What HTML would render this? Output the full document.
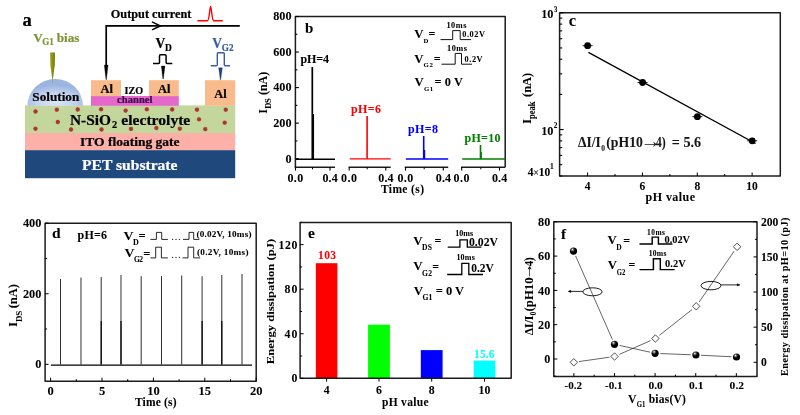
<!DOCTYPE html>
<html><head><meta charset="utf-8"><title>Figure</title>
<style>
html,body{margin:0;padding:0;background:#fff;}
svg{display:block;font-family:"Liberation Serif",serif;font-weight:bold;}
text{stroke:#000;stroke-width:0.06px;}
#pa text{stroke-width:0.22px;}
</style></head><body>
<svg width="800" height="415" viewBox="0 0 800 415">
<defs>
<radialGradient id="gsol" cx="0.5" cy="0.85" r="0.62">
<stop offset="0" stop-color="#dbe5f6"/><stop offset="0.55" stop-color="#c3d3ee"/><stop offset="1" stop-color="#9bb4e0"/>
</radialGradient>
<radialGradient id="gdot" cx="0.5" cy="0.5" r="0.5">
<stop offset="0" stop-color="#a62e32"/><stop offset="0.6" stop-color="#ae383a"/><stop offset="0.85" stop-color="#b4584c"/><stop offset="1" stop-color="#bd9a78"/>
</radialGradient>
<linearGradient id="gnd" x1="0" x2="1" y1="0" y2="0">
<stop offset="0" stop-color="#a5ad3a"/><stop offset="0.45" stop-color="#8a9210"/><stop offset="1" stop-color="#747c08"/>
</linearGradient>
<radialGradient id="gball" cx="0.36" cy="0.3" r="0.7">
<stop offset="0" stop-color="#fff"/><stop offset="0.22" stop-color="#666"/><stop offset="0.5" stop-color="#000"/><stop offset="1" stop-color="#000"/>
</radialGradient>
</defs>
<rect width="800" height="415" fill="#fff"/>
<g id="pa">
<rect x="25" y="105.4" width="210.2" height="27.8" fill="#c3d69b"/>
<rect x="25" y="133" width="210.2" height="17.4" fill="#fcb0a7"/>
<rect x="25" y="150.2" width="210.2" height="28" fill="#1f497d"/>
<rect x="91" y="96" width="87.8" height="9.8" fill="#e368ca"/>
<rect x="91" y="80.2" width="30" height="16" fill="#fabb8c"/>
<rect x="149" y="80.2" width="29.8" height="16" fill="#fabb8c"/>
<rect x="205" y="80.2" width="30.2" height="25.6" fill="#fabb8c"/>
<path d="M27.5 105.7 A27.7 26.8 0 0 1 82.9 105.7 Z" fill="url(#gsol)"/>
<path d="M50 52.6 L55 52.6 L54.8 65 L52.9 79.5 L52.6 83.8 L52.3 79.5 L50.3 65 Z" fill="url(#gnd)"/>
<circle cx="35.5" cy="111.5" r="2.4" fill="url(#gdot)"/>
<circle cx="56.8" cy="109.7" r="2.4" fill="url(#gdot)"/>
<circle cx="77.7" cy="109.5" r="2.4" fill="url(#gdot)"/>
<circle cx="101.1" cy="109.3" r="2.4" fill="url(#gdot)"/>
<circle cx="125.6" cy="110.6" r="2.4" fill="url(#gdot)"/>
<circle cx="146.8" cy="109.3" r="2.4" fill="url(#gdot)"/>
<circle cx="172.2" cy="109.5" r="2.4" fill="url(#gdot)"/>
<circle cx="197" cy="109.7" r="2.4" fill="url(#gdot)"/>
<circle cx="225.7" cy="109.7" r="2.4" fill="url(#gdot)"/>
<circle cx="57.8" cy="122" r="2.4" fill="url(#gdot)"/>
<circle cx="199" cy="119.3" r="2.4" fill="url(#gdot)"/>
<circle cx="224.7" cy="122.7" r="2.4" fill="url(#gdot)"/>
<circle cx="35.5" cy="128.7" r="2.4" fill="url(#gdot)"/>
<circle cx="71" cy="129.5" r="2.4" fill="url(#gdot)"/>
<circle cx="101.5" cy="129.5" r="2.4" fill="url(#gdot)"/>
<circle cx="131" cy="128.9" r="2.4" fill="url(#gdot)"/>
<circle cx="156.4" cy="128" r="2.4" fill="url(#gdot)"/>
<circle cx="179.8" cy="128.7" r="2.4" fill="url(#gdot)"/>
<circle cx="205.3" cy="129.2" r="2.4" fill="url(#gdot)"/>
<text x="22.6" y="26" font-size="18.5">a</text>
<text x="33.2" y="42.2" font-size="13" style="fill:#7f9435;stroke:#7f9435" textLength="9.6" lengthAdjust="spacingAndGlyphs">V</text>
<text x="42.3" y="44.7" font-size="9.5" style="fill:#7f9435;stroke:#7f9435" textLength="11.5" lengthAdjust="spacingAndGlyphs">G1</text>
<text x="56.7" y="42.2" font-size="13" style="fill:#7f9435;stroke:#7f9435" textLength="22.8" lengthAdjust="spacingAndGlyphs">bias</text>
<text x="32.3" y="100.9" font-size="13.3" textLength="47" lengthAdjust="spacingAndGlyphs">Solution</text>
<text x="100.5" y="92.5" font-size="12.3" textLength="12.4" lengthAdjust="spacingAndGlyphs">Al</text>
<text x="158" y="92.5" font-size="12.3" textLength="12.4" lengthAdjust="spacingAndGlyphs">Al</text>
<text x="214.3" y="98" font-size="12.3" textLength="12.4" lengthAdjust="spacingAndGlyphs">Al</text>
<text x="124.5" y="94.4" font-size="10.5" textLength="18.7" lengthAdjust="spacingAndGlyphs">IZO</text>
<text x="117" y="103.3" font-size="9.8" style="fill:#400850;stroke:#400850" textLength="35.5" lengthAdjust="spacingAndGlyphs">channel</text>
<text x="70" y="124.7" font-size="15" textLength="41" lengthAdjust="spacingAndGlyphs">N-SiO</text>
<text x="112" y="128.3" font-size="10.3">2</text>
<text x="121.3" y="124.7" font-size="15" textLength="69" lengthAdjust="spacingAndGlyphs">electrolyte</text>
<text x="80" y="146.2" font-size="12.3" textLength="99.5" lengthAdjust="spacingAndGlyphs">ITO floating gate</text>
<text x="82" y="169.8" font-size="14" style="fill:#fff;stroke:#fff" textLength="95.5" lengthAdjust="spacingAndGlyphs">PET substrate</text>
<path d="M239.8 25.9 L106.2 25.9 L106.2 70" stroke="#000" stroke-width="1.7" fill="none"/>
<path d="M104.3 65 L108.1 65 L106.4 79.8 L106 79.8 Z" stroke="#000" stroke-width="0.3" fill="#000"/>
<path d="M152 21.9 L160.3 25.9 L152 29.9" stroke="#000" stroke-width="1.6" fill="none"/>
<text x="110.8" y="17.8" font-size="12" textLength="80.5" lengthAdjust="spacingAndGlyphs">Output current</text>
<path d="M197.4 20.8 L207.4 20.8 C209.4 20.8 209.7 6.5 210.6 6.5 C211.5 6.5 211.8 20.8 213.8 20.8 L222.8 20.8" stroke="#f00" stroke-width="1.4" fill="none"/>
<text x="155.6" y="48" font-size="14.5" textLength="9.8" lengthAdjust="spacingAndGlyphs">V</text>
<text x="165" y="50.5" font-size="10.3" textLength="6.8" lengthAdjust="spacingAndGlyphs">D</text>
<path d="M153 63.4 L158.6 63.4 Q159.5 63.4 159.5 62.4 L159.5 55.8 Q159.5 54.8 160.5 54.8 L165.1 54.8 Q166.1 54.8 166.1 55.8 L166.1 62.4 Q166.1 63.4 167.1 63.4 L172.3 63.4" stroke="#000" stroke-width="1.5" fill="none"/>
<path d="M161.3 66 L165 66 L163.3 79 L162.9 79 Z" stroke="#000" stroke-width="0.3" fill="#000"/>
<text x="212.2" y="48" font-size="14.5" style="fill:#35609c;stroke:#35609c" textLength="9.8" lengthAdjust="spacingAndGlyphs">V</text>
<text x="221.8" y="50.7" font-size="10.3" style="fill:#35609c;stroke:#35609c" textLength="11.7" lengthAdjust="spacingAndGlyphs">G2</text>
<path d="M210.8 65.8 L216.3 65.8 Q217.3 65.8 217.3 64.8 L217.3 53.7 Q217.3 52.7 218.3 52.7 L223.3 52.7 Q224.3 52.7 224.3 53.7 L224.3 64.8 Q224.3 65.8 225.3 65.8 L230.1 65.8" stroke="#35609c" stroke-width="1.4" fill="none"/>
<path d="M218.6 67.8 L222.4 67.8 L220.7 80 L220.3 80 Z" stroke="#1f4477" stroke-width="0.3" fill="#1f4477"/>
</g>
<g id="pb">
<path d="M295.4 167.3 L295.4 16.4 L505.2 16.4 L505.2 167.3" stroke="#1c1c1c" stroke-width="1.5" fill="none" stroke-linejoin="round"/>
<line x1="294.7" y1="167.3" x2="335" y2="167.3" stroke="#1c1c1c" stroke-width="1.5"/>
<line x1="295.5" y1="167.3" x2="295.5" y2="170.6" stroke="#000" stroke-width="1.1"/>
<line x1="312.5" y1="167.3" x2="312.5" y2="169.3" stroke="#000" stroke-width="1.0"/>
<line x1="330" y1="167.3" x2="330" y2="170.6" stroke="#000" stroke-width="1.1"/>
<text x="287.4" y="181.7" font-size="12" textLength="15.8">0.0</text>
<text x="322.4" y="181.7" font-size="12" textLength="15.4">0.4</text>
<line x1="295.9" y1="159.2" x2="335" y2="159.2" stroke="#000" stroke-width="1.4"/>
<line x1="312.3" y1="67" x2="312.3" y2="159.2" stroke="#000" stroke-width="1.7"/>
<text x="300.5" y="62.7" font-size="12" textLength="28.5">pH=4</text>
<line x1="348.6" y1="167.3" x2="390.7" y2="167.3" stroke="#1c1c1c" stroke-width="1.5"/>
<line x1="349.2" y1="167.3" x2="349.2" y2="170.6" stroke="#000" stroke-width="1.1"/>
<line x1="367.2" y1="167.3" x2="367.2" y2="169.3" stroke="#000" stroke-width="1.0"/>
<line x1="385.8" y1="167.3" x2="385.8" y2="170.6" stroke="#000" stroke-width="1.1"/>
<text x="341.1" y="181.7" font-size="12" textLength="15.8">0.0</text>
<text x="378.2" y="181.7" font-size="12" textLength="15.4">0.4</text>
<line x1="349.8" y1="158.9" x2="390.7" y2="158.9" stroke="#f00" stroke-width="1.4"/>
<line x1="367.1" y1="116" x2="367.1" y2="158.9" stroke="#f00" stroke-width="1.6"/>
<text x="351" y="112.7" font-size="12" style="fill:#f00;stroke:#f00" textLength="30">pH=6</text>
<line x1="404.7" y1="167.3" x2="448.2" y2="167.3" stroke="#1c1c1c" stroke-width="1.5"/>
<line x1="405.5" y1="167.3" x2="405.5" y2="170.6" stroke="#000" stroke-width="1.1"/>
<line x1="424.2" y1="167.3" x2="424.2" y2="169.3" stroke="#000" stroke-width="1.0"/>
<line x1="443.3" y1="167.3" x2="443.3" y2="170.6" stroke="#000" stroke-width="1.1"/>
<text x="397.4" y="181.7" font-size="12" textLength="15.8">0.0</text>
<text x="435.7" y="181.7" font-size="12" textLength="15.4">0.4</text>
<line x1="405.9" y1="159" x2="448.2" y2="159" stroke="#00f" stroke-width="1.4"/>
<line x1="423.7" y1="136" x2="423.7" y2="159" stroke="#00f" stroke-width="1.6"/>
<text x="408" y="133.2" font-size="12" style="fill:#00f;stroke:#00f" textLength="30">pH=8</text>
<line x1="461" y1="167.3" x2="505.2" y2="167.3" stroke="#1c1c1c" stroke-width="1.5"/>
<line x1="461.7" y1="167.3" x2="461.7" y2="170.6" stroke="#000" stroke-width="1.1"/>
<line x1="480.8" y1="167.3" x2="480.8" y2="169.3" stroke="#000" stroke-width="1.0"/>
<line x1="499.5" y1="167.3" x2="499.5" y2="170.6" stroke="#000" stroke-width="1.1"/>
<text x="453.6" y="181.7" font-size="12" textLength="15.8">0.0</text>
<text x="491.9" y="181.7" font-size="12" textLength="15.4">0.4</text>
<line x1="462.2" y1="159" x2="505.2" y2="159" stroke="#008000" stroke-width="1.4"/>
<line x1="480.5" y1="145" x2="480.5" y2="159" stroke="#008000" stroke-width="1.6"/>
<text x="464.5" y="142.2" font-size="12" style="fill:#008000;stroke:#008000" textLength="36">pH=10</text>
<line x1="313.5" y1="114" x2="313.5" y2="159" stroke="#000" stroke-width="1.1"/>
<line x1="424.6" y1="150" x2="424.6" y2="159" stroke="#00f" stroke-width="1.2"/>
<line x1="481.3" y1="152" x2="481.3" y2="159" stroke="#008000" stroke-width="1.2"/>
<line x1="295.4" y1="158.7" x2="298.9" y2="158.7" stroke="#000" stroke-width="1.1"/>
<text x="291.5" y="162.5" font-size="12.2" text-anchor="end">0</text>
<line x1="295.4" y1="140.92" x2="297.4" y2="140.92" stroke="#000" stroke-width="1.1"/>
<line x1="295.4" y1="123.15" x2="298.9" y2="123.15" stroke="#000" stroke-width="1.1"/>
<text x="273.2" y="126.95" font-size="12.2" textLength="18.4">200</text>
<line x1="295.4" y1="105.37" x2="297.4" y2="105.37" stroke="#000" stroke-width="1.1"/>
<line x1="295.4" y1="87.6" x2="298.9" y2="87.6" stroke="#000" stroke-width="1.1"/>
<text x="273.2" y="91.4" font-size="12.2" textLength="18.4">400</text>
<line x1="295.4" y1="69.82" x2="297.4" y2="69.82" stroke="#000" stroke-width="1.1"/>
<line x1="295.4" y1="52.05" x2="298.9" y2="52.05" stroke="#000" stroke-width="1.1"/>
<text x="273.2" y="55.85" font-size="12.2" textLength="18.4">600</text>
<line x1="295.4" y1="34.28" x2="297.4" y2="34.28" stroke="#000" stroke-width="1.1"/>
<line x1="295.4" y1="16.5" x2="298.9" y2="16.5" stroke="#000" stroke-width="1.1"/>
<text x="273.2" y="20.3" font-size="12.2" textLength="18.4">800</text>
<text x="305" y="33.2" font-size="15">b</text>
<text x="381" y="193.4" font-size="11.5" textLength="43">Time (s)</text>
<g transform="translate(266.5,113.7) rotate(-90)">
<text x="0" y="0" font-size="12">I</text>
<text x="4.9" y="4.4" font-size="8.5" textLength="10.6">DS</text>
<text x="18.6" y="0" font-size="12" textLength="23.4">(nA)</text>
</g>
<text x="414.2" y="37.8" font-size="12.8">V</text>
<text x="423.4" y="42.8" font-size="6.8">D</text>
<text x="428.6" y="38.2" font-size="12" stroke-width="0">=</text>
<text x="414.2" y="62.8" font-size="12.8">V</text>
<text x="423.4" y="67.4" font-size="6.8" textLength="9.4">G2</text>
<text x="433.8" y="63.4" font-size="12" stroke-width="0">=</text>
<text x="414.6" y="85.8" font-size="12.8">V</text>
<text x="424" y="91" font-size="6.8" textLength="9.2">G1</text>
<text x="434.5" y="85.5" font-size="12.3" textLength="28.3">= 0 V</text>
<path d="M440.5 39.6 L452.7 39.6 L452.7 30.6 L460.2 30.6 L460.2 39.6 L471 39.6" stroke="#111" stroke-width="1.0" fill="none"/>
<path d="M441.5 64.2 L455.2 64.2 L455.2 53.4 L461.5 53.4 L461.5 64.2 L472 64.2" stroke="#111" stroke-width="1.0" fill="none"/>
<text x="446.4" y="27.5" font-size="8.3" textLength="20">10ms</text>
<text x="447" y="50.9" font-size="8.3" textLength="20">10ms</text>
<text x="462.3" y="37.2" font-size="8.3" textLength="22.6">0.02V</text>
<text x="464.6" y="62.2" font-size="8.3" textLength="18">0.2V</text>
</g>
<g id="pc">
<rect x="559.6" y="12.8" width="220.7" height="163.2" fill="none" stroke="#1c1c1c" stroke-width="1.5" stroke-linejoin="round"/>
<line x1="559.6" y1="12.8" x2="563.6" y2="12.8" stroke="#000" stroke-width="1.1"/>
<line x1="559.6" y1="18.14" x2="562.2" y2="18.14" stroke="#000" stroke-width="1.1"/>
<line x1="559.6" y1="24.11" x2="562.2" y2="24.11" stroke="#000" stroke-width="1.1"/>
<line x1="559.6" y1="30.88" x2="562.2" y2="30.88" stroke="#000" stroke-width="1.1"/>
<line x1="559.6" y1="38.7" x2="562.2" y2="38.7" stroke="#000" stroke-width="1.1"/>
<line x1="559.6" y1="47.94" x2="562.2" y2="47.94" stroke="#000" stroke-width="1.1"/>
<line x1="559.6" y1="59.26" x2="562.2" y2="59.26" stroke="#000" stroke-width="1.1"/>
<line x1="559.6" y1="73.84" x2="562.2" y2="73.84" stroke="#000" stroke-width="1.1"/>
<line x1="559.6" y1="94.4" x2="562.2" y2="94.4" stroke="#000" stroke-width="1.1"/>
<line x1="559.6" y1="129.54" x2="563.6" y2="129.54" stroke="#000" stroke-width="1.1"/>
<line x1="559.6" y1="134.88" x2="562.2" y2="134.88" stroke="#000" stroke-width="1.1"/>
<line x1="559.6" y1="140.85" x2="562.2" y2="140.85" stroke="#000" stroke-width="1.1"/>
<line x1="559.6" y1="147.62" x2="562.2" y2="147.62" stroke="#000" stroke-width="1.1"/>
<line x1="559.6" y1="155.44" x2="562.2" y2="155.44" stroke="#000" stroke-width="1.1"/>
<line x1="559.6" y1="164.68" x2="562.2" y2="164.68" stroke="#000" stroke-width="1.1"/>
<line x1="559.6" y1="176" x2="562.2" y2="176" stroke="#000" stroke-width="1.1"/>
<line x1="587.6" y1="176" x2="587.6" y2="172.5" stroke="#000" stroke-width="1.0"/>
<text x="587.6" y="189.6" font-size="11.5" text-anchor="middle">4</text>
<line x1="615.02" y1="176" x2="615.02" y2="174" stroke="#000" stroke-width="1.0"/>
<line x1="642.44" y1="176" x2="642.44" y2="172.5" stroke="#000" stroke-width="1.0"/>
<text x="642.44" y="189.6" font-size="11.5" text-anchor="middle">6</text>
<line x1="669.86" y1="176" x2="669.86" y2="174" stroke="#000" stroke-width="1.0"/>
<line x1="697.28" y1="176" x2="697.28" y2="172.5" stroke="#000" stroke-width="1.0"/>
<text x="697.28" y="189.6" font-size="11.5" text-anchor="middle">8</text>
<line x1="724.7" y1="176" x2="724.7" y2="174" stroke="#000" stroke-width="1.0"/>
<line x1="752.12" y1="176" x2="752.12" y2="172.5" stroke="#000" stroke-width="1.0"/>
<text x="752.12" y="189.6" font-size="11.5" text-anchor="middle">10</text>
<line x1="588.4" y1="52.3" x2="755.5" y2="143.5" stroke="#000" stroke-width="1.4"/>
<line x1="582.6" y1="45.7" x2="592.6" y2="45.7" stroke="#000" stroke-width="0.9"/>
<circle cx="587.6" cy="45.7" r="3.4" fill="#000"/>
<line x1="637.6" y1="82.5" x2="647.6" y2="82.5" stroke="#000" stroke-width="0.9"/>
<circle cx="642.6" cy="82.5" r="3.4" fill="#000"/>
<line x1="692.4" y1="116.7" x2="702.4" y2="116.7" stroke="#000" stroke-width="0.9"/>
<circle cx="697.4" cy="116.7" r="3.4" fill="#000"/>
<line x1="747.2" y1="140.8" x2="757.2" y2="140.8" stroke="#000" stroke-width="0.9"/>
<circle cx="752.2" cy="140.8" r="3.4" fill="#000"/>
<text x="568.8" y="26.3" font-size="16.5">c</text>
<text x="578.1" y="146.7" font-size="14" style="fill:#161616;stroke:#161616" textLength="22.8" lengthAdjust="spacingAndGlyphs">&#916;I/I</text>
<text x="601.2" y="150.8" font-size="7.5" style="fill:#161616;stroke:#161616">0</text>
<text x="606.3" y="146.7" font-size="14" style="fill:#161616;stroke:#161616" textLength="36.6" lengthAdjust="spacingAndGlyphs">(pH10</text>
<text transform="translate(640.5,146.5) scale(1.45,1.25)" font-size="14" style="fill:#161616;stroke:#161616">&#8594;</text>
<text x="655.8" y="146.7" font-size="14" style="fill:#161616;stroke:#161616" textLength="10" lengthAdjust="spacingAndGlyphs">4)</text>
<text x="671.8" y="146.7" font-size="14" style="fill:#161616;stroke:#161616" textLength="29.3" lengthAdjust="spacingAndGlyphs">= 5.6</text>
<text x="645.6" y="200.5" font-size="12" textLength="49.4">pH value</text>
<text x="541.2" y="18.4" font-size="12.3">10</text>
<text x="553.8" y="11.6" font-size="7.3">3</text>
<text x="541.2" y="134.6" font-size="12.3">10</text>
<text x="553.8" y="128.2" font-size="7.3">2</text>
<text x="527.8" y="175.8" font-size="11.5">4</text>
<text x="533.2" y="175.6" font-size="10" font-weight="normal">&#215;</text>
<text x="538.8" y="175.8" font-size="11.5">10</text>
<text x="549.9" y="169.2" font-size="7.5">1</text>
<g transform="translate(530.8,124.1) rotate(-90)">
<text x="0" y="0" font-size="12.5">I</text>
<text x="5" y="4.3" font-size="9.6" textLength="17.6" lengthAdjust="spacingAndGlyphs">peak</text>
<text x="27.1" y="0" font-size="12.5" textLength="24.2" lengthAdjust="spacingAndGlyphs">(nA)</text>
</g>
</g>
<g id="pd">
<rect x="45.1" y="223.2" width="211.1" height="158" fill="none" stroke="#1c1c1c" stroke-width="1.5" stroke-linejoin="round"/>
<line x1="45.1" y1="364.3" x2="48.6" y2="364.3" stroke="#000" stroke-width="1.0"/>
<line x1="45.1" y1="329.03" x2="47.1" y2="329.03" stroke="#000" stroke-width="1.0"/>
<line x1="45.1" y1="293.75" x2="48.6" y2="293.75" stroke="#000" stroke-width="1.0"/>
<line x1="45.1" y1="258.48" x2="47.1" y2="258.48" stroke="#000" stroke-width="1.0"/>
<line x1="45.1" y1="223.2" x2="48.6" y2="223.2" stroke="#000" stroke-width="1.0"/>
<text x="41.4" y="368.1" font-size="12.3" text-anchor="end">0</text>
<text x="41.4" y="297.55" font-size="12.3" text-anchor="end">200</text>
<text x="41.4" y="227" font-size="12.3" text-anchor="end">400</text>
<line x1="50.6" y1="381.2" x2="50.6" y2="377.7" stroke="#000" stroke-width="1.0"/>
<line x1="76.3" y1="381.2" x2="76.3" y2="379.2" stroke="#000" stroke-width="1.0"/>
<line x1="102" y1="381.2" x2="102" y2="377.7" stroke="#000" stroke-width="1.0"/>
<line x1="127.7" y1="381.2" x2="127.7" y2="379.2" stroke="#000" stroke-width="1.0"/>
<line x1="153.4" y1="381.2" x2="153.4" y2="377.7" stroke="#000" stroke-width="1.0"/>
<line x1="179.1" y1="381.2" x2="179.1" y2="379.2" stroke="#000" stroke-width="1.0"/>
<line x1="204.8" y1="381.2" x2="204.8" y2="377.7" stroke="#000" stroke-width="1.0"/>
<line x1="230.5" y1="381.2" x2="230.5" y2="379.2" stroke="#000" stroke-width="1.0"/>
<line x1="256.2" y1="381.2" x2="256.2" y2="377.7" stroke="#000" stroke-width="1.0"/>
<text x="50.6" y="395.4" font-size="12.5" text-anchor="middle">0</text>
<text x="102" y="395.4" font-size="12.5" text-anchor="middle">5</text>
<text x="153.4" y="395.4" font-size="12.5" text-anchor="middle">10</text>
<text x="204.8" y="395.4" font-size="12.5" text-anchor="middle">15</text>
<text x="256.2" y="395.4" font-size="12.5" text-anchor="middle">20</text>
<line x1="60.5" y1="279" x2="60.5" y2="364.5" stroke="#303030" stroke-width="1.0"/>
<line x1="81" y1="277.5" x2="81" y2="364.5" stroke="#303030" stroke-width="1.0"/>
<line x1="101.2" y1="277" x2="101.2" y2="364.5" stroke="#303030" stroke-width="1.0"/>
<line x1="121" y1="275" x2="121" y2="364.5" stroke="#303030" stroke-width="1.0"/>
<line x1="141.2" y1="276.2" x2="141.2" y2="364.5" stroke="#303030" stroke-width="1.0"/>
<line x1="161.5" y1="276.2" x2="161.5" y2="364.5" stroke="#303030" stroke-width="1.0"/>
<line x1="181.7" y1="275.5" x2="181.7" y2="364.5" stroke="#303030" stroke-width="1.0"/>
<line x1="202.1" y1="276.2" x2="202.1" y2="364.5" stroke="#303030" stroke-width="1.0"/>
<line x1="221.8" y1="275" x2="221.8" y2="364.5" stroke="#303030" stroke-width="1.0"/>
<line x1="242" y1="274" x2="242" y2="364.5" stroke="#303030" stroke-width="1.0"/>
<line x1="101.2" y1="321" x2="101.2" y2="364.5" stroke="#000" stroke-width="1.2"/>
<line x1="121" y1="321" x2="121" y2="364.5" stroke="#000" stroke-width="1.2"/>
<line x1="202.1" y1="321" x2="202.1" y2="364.5" stroke="#000" stroke-width="1.2"/>
<line x1="221.8" y1="321" x2="221.8" y2="364.5" stroke="#000" stroke-width="1.2"/>
<line x1="51" y1="365.1" x2="252" y2="365.1" stroke="#000" stroke-width="1.4"/>
<text x="52" y="238" font-size="15.5">d</text>
<text x="77.5" y="238.7" font-size="12" textLength="29.5">pH=6</text>
<text x="123.5" y="239.7" font-size="12.6" textLength="10" lengthAdjust="spacingAndGlyphs">V</text>
<text x="133" y="245.4" font-size="8">D</text>
<text x="138.6" y="240" font-size="12.5">=</text>
<text x="124.6" y="256.8" font-size="12.6" textLength="10" lengthAdjust="spacingAndGlyphs">V</text>
<text x="134" y="262.4" font-size="7.5" textLength="9">G2</text>
<text x="143.2" y="258" font-size="12.5">=</text>
<path d="M150.4 239.4 L156.4 239.4 L156.4 232.4 L161.7 232.4 L161.7 239.4 L167.9 239.4" stroke="#111" stroke-width="0.9" fill="none"/>
<path d="M183 239.4 L189 239.4 L189 232.4 L193.7 232.4 L193.7 239.4 L199.3 239.4" stroke="#111" stroke-width="0.9" fill="none"/>
<path d="M150.4 257.9 L155.7 257.9 L155.7 247.2 L161.4 247.2 L161.4 257.9 L167.9 257.9" stroke="#111" stroke-width="0.9" fill="none"/>
<path d="M182.5 257.9 L188 257.9 L188 247.2 L193.7 247.2 L193.7 257.9 L200.2 257.9" stroke="#111" stroke-width="0.9" fill="none"/>
<text x="171" y="239.8" font-size="10" textLength="10" font-weight="normal" stroke-width="0">&#8230;</text>
<text x="171" y="257.6" font-size="10" textLength="10" font-weight="normal" stroke-width="0">&#8230;</text>
<text x="196.5" y="237.3" font-size="9.2" textLength="55">(0.02V, 10ms)</text>
<text x="196.9" y="255.4" font-size="9.2" textLength="51.6">(0.2V, 10ms)</text>
<text x="135" y="406" font-size="11.5" textLength="41.5">Time (s)</text>
<g transform="translate(17.3,327.1) rotate(-90)">
<text x="0" y="0" font-size="12.5">I</text>
<text x="5" y="4.2" font-size="9" textLength="11.3">DS</text>
<text x="18.8" y="0" font-size="12.5" textLength="24.2">(nA)</text>
</g>
</g>
<g id="pe">
<rect x="315.8" y="263.2" width="21.6" height="115.1" fill="#f00"/>
<rect x="368.1" y="324.7" width="21.8" height="53.6" fill="#0f0"/>
<rect x="420.8" y="350.1" width="21.8" height="28.2" fill="#00f"/>
<rect x="473.7" y="360.6" width="21.6" height="17.7" fill="#0ff"/>
<rect x="300.1" y="222.6" width="211.1" height="155.7" fill="none" stroke="#1c1c1c" stroke-width="1.5" stroke-linejoin="round"/>
<line x1="300.1" y1="378.3" x2="303.6" y2="378.3" stroke="#000" stroke-width="1.0"/>
<text x="297.4" y="382.2" font-size="11.8" text-anchor="end">0</text>
<line x1="300.1" y1="356.02" x2="302.1" y2="356.02" stroke="#000" stroke-width="1.0"/>
<line x1="300.1" y1="333.74" x2="303.6" y2="333.74" stroke="#000" stroke-width="1.0"/>
<text x="297.4" y="337.64" font-size="11.8" text-anchor="end" textLength="13">40</text>
<line x1="300.1" y1="311.46" x2="302.1" y2="311.46" stroke="#000" stroke-width="1.0"/>
<line x1="300.1" y1="289.18" x2="303.6" y2="289.18" stroke="#000" stroke-width="1.0"/>
<text x="297.4" y="293.08" font-size="11.8" text-anchor="end" textLength="13">80</text>
<line x1="300.1" y1="266.9" x2="302.1" y2="266.9" stroke="#000" stroke-width="1.0"/>
<line x1="300.1" y1="244.62" x2="303.6" y2="244.62" stroke="#000" stroke-width="1.0"/>
<text x="297.4" y="248.52" font-size="11.8" text-anchor="end" textLength="18.8">120</text>
<line x1="300.1" y1="222.34" x2="302.1" y2="222.34" stroke="#000" stroke-width="1.0"/>
<line x1="326.6" y1="378.3" x2="326.6" y2="381.6" stroke="#000" stroke-width="1.0"/>
<text x="326.6" y="393.7" font-size="11.8" text-anchor="middle">4</text>
<line x1="379" y1="378.3" x2="379" y2="381.6" stroke="#000" stroke-width="1.0"/>
<text x="379" y="393.7" font-size="11.8" text-anchor="middle">6</text>
<line x1="431.7" y1="378.3" x2="431.7" y2="381.6" stroke="#000" stroke-width="1.0"/>
<text x="431.7" y="393.7" font-size="11.8" text-anchor="middle">8</text>
<line x1="484.5" y1="378.3" x2="484.5" y2="381.6" stroke="#000" stroke-width="1.0"/>
<text x="484.5" y="393.7" font-size="11.8" text-anchor="middle">10</text>
<text x="318" y="258.8" font-size="11.5" style="fill:#f00;stroke:#f00" textLength="18">103</text>
<text x="474" y="357.8" font-size="11.5" style="fill:#0ff;stroke:#0ff" textLength="20.5">15.6</text>
<text x="308" y="238" font-size="15.5">e</text>
<text x="382" y="406" font-size="11.5" textLength="46.5">pH value</text>
<g transform="translate(274,364.2) rotate(-90)">
<text x="0" y="0" font-size="10.5" textLength="125.4" lengthAdjust="spacingAndGlyphs">Energy dissipation (pJ)</text>
</g>
<text x="413.3" y="245.3" font-size="13">V</text>
<text x="421.9" y="250.4" font-size="7.6" textLength="10.2">DS</text>
<text x="434.4" y="245.4" font-size="12" stroke-width="0">=</text>
<text x="413.3" y="270.4" font-size="13">V</text>
<text x="421.9" y="276" font-size="7.6" textLength="10.2">G2</text>
<text x="432.3" y="270.8" font-size="12" stroke-width="0">=</text>
<text x="413.8" y="295.4" font-size="13">V</text>
<text x="422.4" y="300" font-size="7.6" textLength="10">G1</text>
<text x="435.8" y="295.2" font-size="12.5" textLength="28.3">= 0 V</text>
<path d="M447.7 247.2 L459.9 247.2 L459.9 239.8 L467.3 239.8 L467.3 247.2 L481.4 247.2" stroke="#000" stroke-width="1.3" fill="none"/>
<path d="M447.2 274.5 L461.8 274.5 L461.8 263.4 L468.8 263.4 L468.8 274.5 L483 274.5" stroke="#000" stroke-width="1.3" fill="none"/>
<text x="455.2" y="235.6" font-size="8" textLength="18">10ms</text>
<text x="456.4" y="259.6" font-size="8" textLength="18.4">10ms</text>
<text x="469" y="246" font-size="12.3" textLength="29" lengthAdjust="spacingAndGlyphs">0.02V</text>
<text x="471.2" y="271.6" font-size="12.3" textLength="22.6" lengthAdjust="spacingAndGlyphs">0.2V</text>
</g>
<g id="pf">
<rect x="553.8" y="221.8" width="203.2" height="154.8" fill="none" stroke="#1c1c1c" stroke-width="1.5" stroke-linejoin="round"/>
<line x1="553.8" y1="376.15" x2="555.8" y2="376.15" stroke="#000" stroke-width="1.0"/>
<line x1="553.8" y1="359" x2="557.3" y2="359" stroke="#000" stroke-width="1.0"/>
<text x="550.3" y="363.1" font-size="12.2" text-anchor="end">0</text>
<line x1="553.8" y1="341.85" x2="555.8" y2="341.85" stroke="#000" stroke-width="1.0"/>
<line x1="553.8" y1="324.7" x2="557.3" y2="324.7" stroke="#000" stroke-width="1.0"/>
<text x="550.3" y="328.8" font-size="12.2" text-anchor="end">20</text>
<line x1="553.8" y1="307.55" x2="555.8" y2="307.55" stroke="#000" stroke-width="1.0"/>
<line x1="553.8" y1="290.4" x2="557.3" y2="290.4" stroke="#000" stroke-width="1.0"/>
<text x="550.3" y="294.5" font-size="12.2" text-anchor="end">40</text>
<line x1="553.8" y1="273.25" x2="555.8" y2="273.25" stroke="#000" stroke-width="1.0"/>
<line x1="553.8" y1="256.1" x2="557.3" y2="256.1" stroke="#000" stroke-width="1.0"/>
<text x="550.3" y="260.2" font-size="12.2" text-anchor="end">60</text>
<line x1="553.8" y1="238.95" x2="555.8" y2="238.95" stroke="#000" stroke-width="1.0"/>
<line x1="553.8" y1="221.8" x2="557.3" y2="221.8" stroke="#000" stroke-width="1.0"/>
<text x="550.3" y="225.9" font-size="12.2" text-anchor="end">80</text>
<line x1="757" y1="362.3" x2="753.5" y2="362.3" stroke="#000" stroke-width="1.0"/>
<text x="761" y="366.2" font-size="11.6">0</text>
<line x1="757" y1="344.74" x2="755" y2="344.74" stroke="#000" stroke-width="1.0"/>
<line x1="757" y1="327.17" x2="753.5" y2="327.17" stroke="#000" stroke-width="1.0"/>
<text x="761" y="331.07" font-size="11.6">50</text>
<line x1="757" y1="309.61" x2="755" y2="309.61" stroke="#000" stroke-width="1.0"/>
<line x1="757" y1="292.04" x2="753.5" y2="292.04" stroke="#000" stroke-width="1.0"/>
<text x="761" y="295.94" font-size="11.6">100</text>
<line x1="757" y1="274.48" x2="755" y2="274.48" stroke="#000" stroke-width="1.0"/>
<line x1="757" y1="256.91" x2="753.5" y2="256.91" stroke="#000" stroke-width="1.0"/>
<text x="761" y="260.81" font-size="11.6">150</text>
<line x1="757" y1="239.35" x2="755" y2="239.35" stroke="#000" stroke-width="1.0"/>
<line x1="757" y1="221.78" x2="753.5" y2="221.78" stroke="#000" stroke-width="1.0"/>
<text x="761" y="225.68" font-size="11.6">200</text>
<line x1="573.86" y1="376.6" x2="573.86" y2="373.1" stroke="#000" stroke-width="1.0"/>
<text x="573.26" y="389.2" font-size="11.3" text-anchor="middle" textLength="17.6" lengthAdjust="spacingAndGlyphs">-0.2</text>
<line x1="594.17" y1="376.6" x2="594.17" y2="374.6" stroke="#000" stroke-width="1.0"/>
<line x1="614.48" y1="376.6" x2="614.48" y2="373.1" stroke="#000" stroke-width="1.0"/>
<text x="613.88" y="389.2" font-size="11.3" text-anchor="middle" textLength="17.6" lengthAdjust="spacingAndGlyphs">-0.1</text>
<line x1="634.79" y1="376.6" x2="634.79" y2="374.6" stroke="#000" stroke-width="1.0"/>
<line x1="655.1" y1="376.6" x2="655.1" y2="373.1" stroke="#000" stroke-width="1.0"/>
<text x="655.6" y="389.2" font-size="11.3" text-anchor="middle" textLength="14.4" lengthAdjust="spacingAndGlyphs">0.0</text>
<line x1="675.41" y1="376.6" x2="675.41" y2="374.6" stroke="#000" stroke-width="1.0"/>
<line x1="695.72" y1="376.6" x2="695.72" y2="373.1" stroke="#000" stroke-width="1.0"/>
<text x="696.22" y="389.2" font-size="11.3" text-anchor="middle" textLength="14.4" lengthAdjust="spacingAndGlyphs">0.1</text>
<line x1="716.03" y1="376.6" x2="716.03" y2="374.6" stroke="#000" stroke-width="1.0"/>
<line x1="736.34" y1="376.6" x2="736.34" y2="373.1" stroke="#000" stroke-width="1.0"/>
<text x="736.84" y="389.2" font-size="11.3" text-anchor="middle" textLength="14.4" lengthAdjust="spacingAndGlyphs">0.2</text>
<line x1="575.59" y1="255.86" x2="612.41" y2="339.54" stroke="#222" stroke-width="0.7"/>
<line x1="578.95" y1="361.57" x2="609.35" y2="357.23" stroke="#222" stroke-width="0.7"/>
<line x1="619.58" y1="345.43" x2="650.02" y2="352.17" stroke="#222" stroke-width="0.7"/>
<line x1="619.26" y1="354.41" x2="650.64" y2="340.59" stroke="#222" stroke-width="0.7"/>
<line x1="660.3" y1="353.52" x2="690.7" y2="354.78" stroke="#222" stroke-width="0.7"/>
<line x1="659.48" y1="335.28" x2="692.12" y2="309.52" stroke="#222" stroke-width="0.7"/>
<line x1="701.09" y1="355.26" x2="731.31" y2="356.74" stroke="#222" stroke-width="0.7"/>
<line x1="699.15" y1="302.01" x2="734.15" y2="251.09" stroke="#222" stroke-width="0.7"/>
<circle cx="573.5" cy="251.1" r="3.6" fill="url(#gball)"/>
<circle cx="614.5" cy="344.3" r="3.6" fill="url(#gball)"/>
<circle cx="655.1" cy="353.3" r="3.6" fill="url(#gball)"/>
<circle cx="695.9" cy="355" r="3.6" fill="url(#gball)"/>
<circle cx="736.5" cy="357" r="3.6" fill="url(#gball)"/>
<path d="M570.1 362.3 L573.8 358.6 L577.5 362.3 L573.8 366 Z" fill="#fff" stroke="#222" stroke-width="0.8"/>
<path d="M610.8 356.5 L614.5 352.8 L618.2 356.5 L614.5 360.2 Z" fill="#fff" stroke="#222" stroke-width="0.8"/>
<path d="M651.7 338.5 L655.4 334.8 L659.1 338.5 L655.4 342.2 Z" fill="#fff" stroke="#222" stroke-width="0.8"/>
<path d="M692.5 306.3 L696.2 302.6 L699.9 306.3 L696.2 310 Z" fill="#fff" stroke="#222" stroke-width="0.8"/>
<path d="M733.4 246.8 L737.1 243.1 L740.8 246.8 L737.1 250.5 Z" fill="#fff" stroke="#222" stroke-width="0.8"/>
<ellipse cx="592.5" cy="291.8" rx="9.6" ry="4" fill="none" stroke="#111" stroke-width="0.95"/>
<line x1="582.9" y1="291.4" x2="569" y2="291.4" stroke="#111" stroke-width="0.9"/>
<path d="M570.8 290.3 L568.2 291.4 L570.8 292.5 Z" stroke="#000" stroke-width="0.5" fill="#000"/>
<ellipse cx="711" cy="285.6" rx="10" ry="4.2" fill="none" stroke="#111" stroke-width="0.95"/>
<line x1="721" y1="284.9" x2="738.5" y2="284.9" stroke="#111" stroke-width="0.9"/>
<path d="M737.3 283.8 L740 284.9 L737.3 286 Z" stroke="#000" stroke-width="0.5" fill="#000"/>
<text x="561" y="238.6" font-size="15.5">f</text>
<text x="607.5" y="244" font-size="12.8">V</text>
<text x="616.3" y="249.8" font-size="7.5">D</text>
<text x="623.2" y="244.8" font-size="12" stroke-width="0">=</text>
<text x="607.8" y="269" font-size="12.8">V</text>
<text x="616.8" y="274.5" font-size="7.3" textLength="8.4" lengthAdjust="spacingAndGlyphs">G2</text>
<text x="628.6" y="269.2" font-size="12" stroke-width="0">=</text>
<path d="M639.5 243.9 L652.2 243.9 L652.2 237.1 L658.4 237.1 L658.4 243.9 L672.4 243.9" stroke="#000" stroke-width="1.45" fill="none"/>
<path d="M639.5 269.6 L653.4 269.6 L653.4 258.7 L660.3 258.7 L660.3 269.6 L674.6 269.6" stroke="#000" stroke-width="1.45" fill="none"/>
<text x="647" y="234.8" font-size="7.4" textLength="18">10ms</text>
<text x="648.8" y="256" font-size="7.6" textLength="17.6">10ms</text>
<text x="664.5" y="242.5" font-size="10.8" textLength="25.6" lengthAdjust="spacingAndGlyphs">0.02V</text>
<text x="665.1" y="267.2" font-size="10.8" textLength="20.6" lengthAdjust="spacingAndGlyphs">0.2V</text>
<text x="628" y="402.8" font-size="11.8">V</text>
<text x="636.8" y="406.9" font-size="7.5" textLength="8.6" lengthAdjust="spacingAndGlyphs">G1</text>
<text x="648.7" y="402.8" font-size="11.5" textLength="37.2">bias(V)</text>
<g transform="translate(532.6,335.2) rotate(-90)">
<text x="0" y="0" font-size="12" textLength="19.6" lengthAdjust="spacingAndGlyphs">&#916;I/I</text>
<text x="19.8" y="3" font-size="7.5" textLength="3.8" lengthAdjust="spacingAndGlyphs">0</text>
<text x="23.8" y="0" font-size="12" textLength="34" lengthAdjust="spacingAndGlyphs">(pH10</text>
<text transform="translate(55.6,-0.2) scale(1.35,1.2)" font-size="12">&#8594;</text>
<text x="68.6" y="0" font-size="12" textLength="9.4" lengthAdjust="spacingAndGlyphs">4)</text>
</g>
<g transform="translate(787.8,376) rotate(-90)">
<text x="0" y="0" font-size="10.3" textLength="158.5">Energy dissipation at pH=10 (pJ)</text>
</g>
</g>
</svg>
</body></html>
